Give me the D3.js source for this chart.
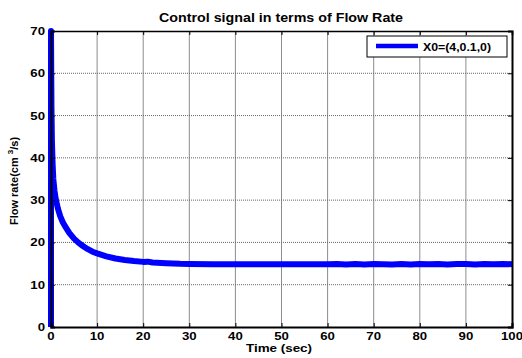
<!DOCTYPE html>
<html>
<head>
<meta charset="utf-8">
<script src="https://cdn.jsdelivr.net/npm/d3@7"></script>
<style>
  html, body { margin: 0; padding: 0; background: #fff; }
  svg { display: block; }
  text { font-family: "Liberation Sans", Arial, sans-serif; }
</style>
</head>
<body>
<svg id="chart" width="522" height="358"></svg>
<script>
// Simulated control signal (flow rate) versus time
const timeSec = [0, 0, 0.1, 0.2, 0.35, 0.5, 0.75, 1, 1.5, 2, 2.5, 3, 4, 5, 6, 7, 8, 9, 10,
  12, 14, 16, 18, 20, 21, 22, 25, 28, 30, 35, 40, 45, 50, 55, 60,
  62, 64, 66, 68, 70, 72, 74, 76, 78, 80, 82, 84, 86, 88, 90, 92, 94, 96, 98, 100];
const flowRate = [0, 70, 52, 44, 38.5, 35, 32.3, 30.4, 28, 26.2, 24.9, 23.9, 22.2, 20.9, 19.9, 19.1, 18.4, 17.8, 17.4,
  16.7, 16.2, 15.85, 15.6, 15.4, 15.45, 15.25, 15.1, 14.95, 14.9, 14.85, 14.85, 14.85, 14.85, 14.85, 14.85,
  14.9, 14.8, 14.9, 14.8, 14.9, 14.85, 14.8, 14.9, 14.8, 14.9, 14.85, 14.9, 14.8, 14.9, 14.9, 14.8, 14.9, 14.85, 14.9, 14.85];
const xTicks = [0, 10, 20, 30, 40, 50, 60, 70, 80, 90, 100];
const yTicks = [0, 10, 20, 30, 40, 50, 60, 70];
const titleText = "Control signal in terms of Flow Rate";
const xLabel = "Time (sec)";
const legendLabel = "X0=(4,0.1,0)";

const svg = d3.select("#chart");
const plotL = 51, plotR = 512, plotT = 31, plotB = 327;
const x = d3.scaleLinear().domain([0, 100]).range([plotL, plotR]);
const y = d3.scaleLinear().domain([0, 70]).range([plotB, plotT]);
const SX = 1.2; // glyphs are drawn slightly wide

function label(g, px, py, str, opts) {
  const o = Object.assign({ size: 11, anchor: "middle", weight: "bold", sx: SX }, opts || {});
  return g.append("g")
    .attr("transform", `translate(${px},${py}) scale(${o.sx},1)`)
    .append("text")
    .attr("text-anchor", o.anchor)
    .attr("font-size", o.size)
    .attr("font-weight", o.weight)
    .attr("fill", "#000")
    .text(str);
}

// Grid
const grid = svg.append("g");
grid.selectAll("line.v").data(xTicks.slice(1, -1)).join("line")
  .attr("class", "v")
  .attr("x1", d => x(d)).attr("x2", d => x(d))
  .attr("y1", plotT).attr("y2", plotB)
  .attr("stroke", "#8c8c8c").attr("stroke-width", 1);
grid.selectAll("line.h").data(yTicks.slice(1, -1)).join("line")
  .attr("class", "h")
  .attr("x1", plotL).attr("x2", plotR)
  .attr("y1", d => y(d)).attr("y2", d => y(d))
  .attr("stroke", "#666").attr("stroke-width", 1)
  .attr("stroke-dasharray", "1,1");

// Data line
const line = d3.line().x((d, i) => x(timeSec[i])).y(d => y(d));
svg.append("path")
  .datum(flowRate)
  .attr("d", line)
  .attr("fill", "none")
  .attr("stroke", "#0000ff")
  .attr("stroke-width", 6)
  .attr("stroke-linejoin", "round");

// Axes frame with inward ticks on all four sides
const axB = d3.axisBottom(x).tickValues(xTicks).tickSize(-4).tickFormat("");
const axT = d3.axisTop(x).tickValues(xTicks).tickSize(-4).tickFormat("");
const axL = d3.axisLeft(y).tickValues(yTicks).tickSize(-4).tickFormat("");
const axR = d3.axisRight(y).tickValues(yTicks).tickSize(-4).tickFormat("");
svg.append("g").attr("transform", `translate(0,${plotB})`).call(axB)
  .call(g => g.select(".domain").attr("stroke-width", 2.2));
svg.append("g").attr("transform", `translate(0,${plotT})`).call(axT)
  .call(g => g.select(".domain").attr("stroke-width", 1.6));
svg.append("g").attr("transform", `translate(${plotL},0)`).call(axL)
  .call(g => g.select(".domain").attr("stroke-width", 2.2));
svg.append("g").attr("transform", `translate(${plotR},0)`).call(axR)
  .call(g => g.select(".domain").attr("stroke-width", 2));
svg.selectAll(".tick line").attr("stroke", "#000").attr("stroke-width", 1);
svg.selectAll(".domain").attr("stroke", "#000");

// Tick labels
const labels = svg.append("g");
xTicks.forEach(v => label(labels, x(v), 340, String(v)));
yTicks.forEach(v => label(labels, 45, y(v) + 4, String(v), { anchor: "end" }));

// Title and axis titles
label(svg, 281, 22, titleText, { size: 12, sx: 1.19 });
label(svg, 279, 352, xLabel, { sx: 1.22 });

const yl = svg.append("g").attr("transform", "translate(18,181) rotate(-90)")
  .append("text")
  .attr("text-anchor", "middle")
  .attr("font-size", 11)
  .attr("font-weight", "bold")
  .attr("fill", "#000");
yl.append("tspan").text("Flow rate(cm ");
yl.append("tspan").attr("font-size", 8).attr("dy", -5).text("3");
yl.append("tspan").attr("dy", 5).text("/s)");

// Legend
const lg = svg.append("g");
lg.append("rect")
  .attr("x", 367).attr("y", 36).attr("width", 140).attr("height", 21)
  .attr("fill", "#fff").attr("stroke", "#000").attr("stroke-width", 1);
lg.append("line")
  .attr("x1", 376).attr("x2", 418).attr("y1", 46).attr("y2", 46)
  .attr("stroke", "#0000ff").attr("stroke-width", 4.5);
label(lg, 423, 51, legendLabel, { anchor: "start", sx: 1.12 });
</script>
</body>
</html>
